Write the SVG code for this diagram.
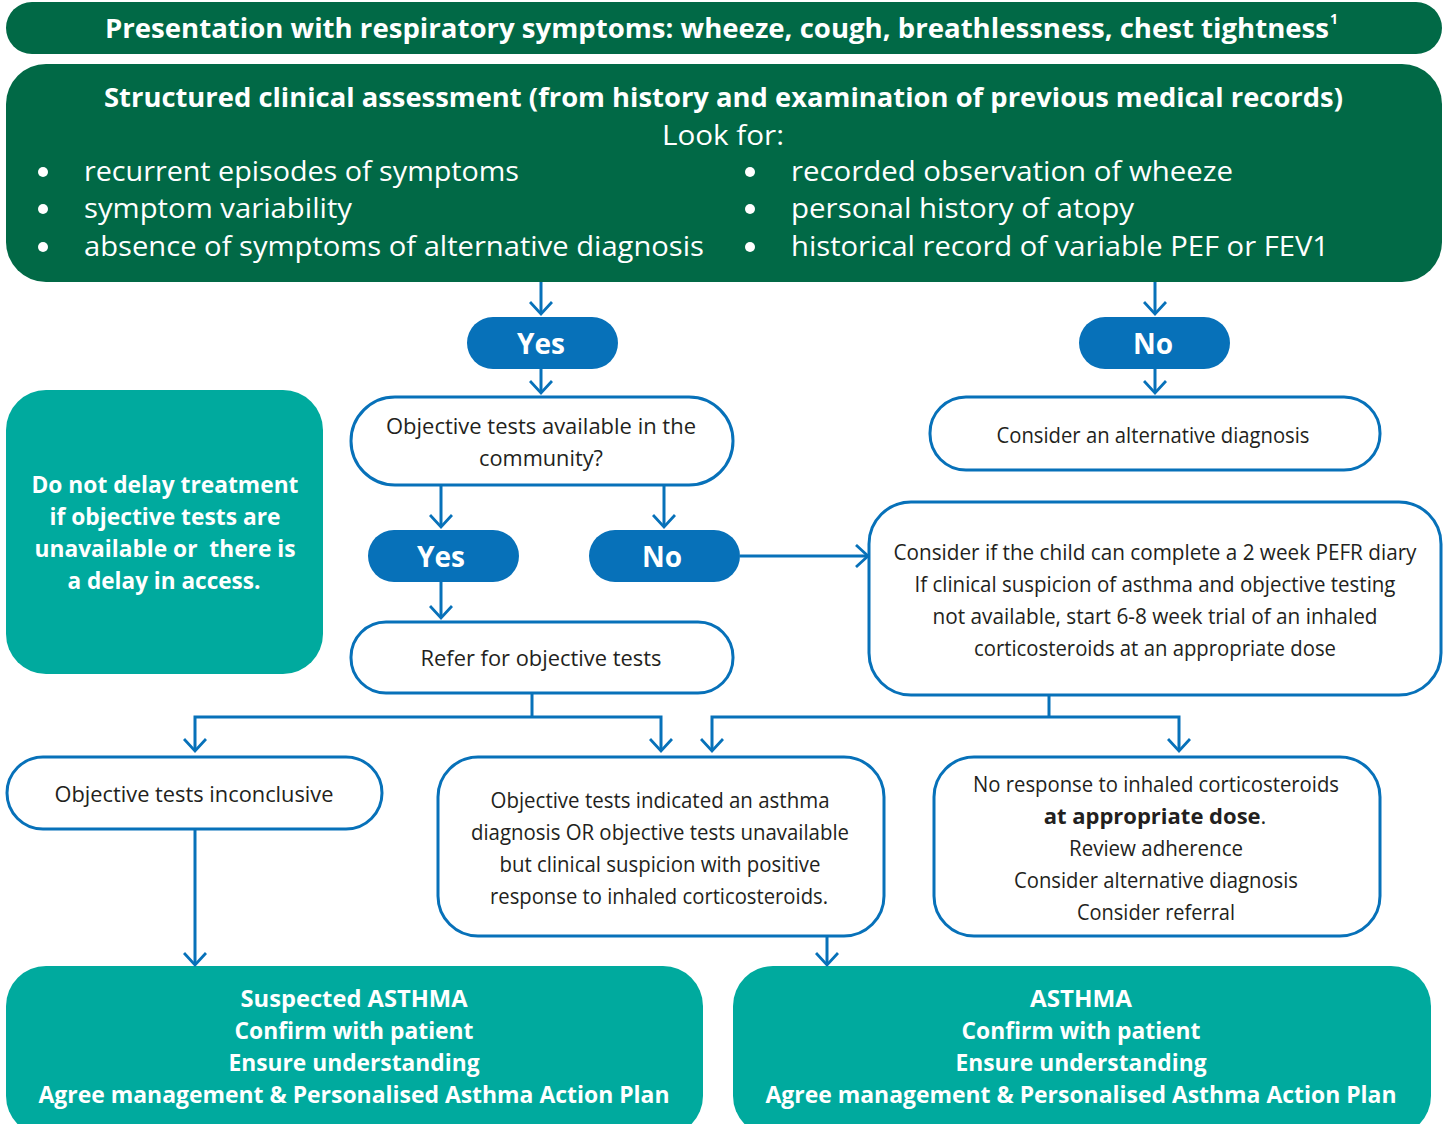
<svg xmlns="http://www.w3.org/2000/svg" width="1447" height="1124" viewBox="0 0 1447 1124">
  <defs>
    <style>
      .dk { fill: #016946; }
      .teal { fill: #00AA9E; }
      .pill { fill: #0771B9; }
      .box { fill: #ffffff; stroke: #0771B9; stroke-width: 3; }
      .wt { fill: #ffffff; font-family: "Open Sans", "Noto Sans", sans-serif; }
      .bd { fill: #231F20; font-family: "Open Sans", "Noto Sans", sans-serif; font-size: 22px; font-weight: 400; }
      .b { font-weight: 700; }
      .c { text-anchor: middle; }
      .ln { fill: none; stroke: #0771B9; stroke-width: 3; }
      .dot { fill: #ffffff; }
    </style>
    <marker id="arr" viewBox="0 0 24 24" refX="20" refY="12" markerWidth="24" markerHeight="24" markerUnits="userSpaceOnUse" orient="auto">
      <path d="M8,1 L20,12 L8,23" fill="none" stroke="#0771B9" stroke-width="2.8"/>
    </marker>
  </defs>
  <rect width="1447" height="1124" fill="#ffffff"/>

  <!-- Presenting symptoms header -->
  <g id="presentation">
    <rect class="dk" x="6" y="2" width="1436" height="52" rx="26"/>
    <text class="wt b" x="105" y="38" font-size="26" textLength="1224" lengthAdjust="spacingAndGlyphs">Presentation with respiratory symptoms: wheeze, cough, breathlessness, chest tightness</text>
    <text class="wt b" x="1330" y="24" font-size="14">1</text>
  </g>

  <!-- Structured clinical assessment -->
  <g id="assessment">
    <rect class="dk" x="6" y="64" width="1436" height="218" rx="40"/>
    <text class="wt b" x="104" y="107" font-size="27" textLength="1239" lengthAdjust="spacingAndGlyphs">Structured clinical assessment (from history and examination of previous medical records)</text>
    <text class="wt c" x="723" y="145" font-size="28" textLength="122" lengthAdjust="spacingAndGlyphs">Look for:</text>
    <circle class="dot" cx="43" cy="172" r="5"/>
    <circle class="dot" cx="43" cy="209" r="5"/>
    <circle class="dot" cx="43" cy="247" r="5"/>
    <circle class="dot" cx="750" cy="172" r="5"/>
    <circle class="dot" cx="750" cy="209" r="5"/>
    <circle class="dot" cx="750" cy="247" r="5"/>
    <g font-size="28">
      <text class="wt" x="84" y="181" textLength="435" lengthAdjust="spacingAndGlyphs">recurrent episodes of symptoms</text>
      <text class="wt" x="84" y="218" textLength="268" lengthAdjust="spacingAndGlyphs">symptom variability</text>
      <text class="wt" x="84" y="256" textLength="620" lengthAdjust="spacingAndGlyphs">absence of symptoms of alternative diagnosis</text>
      <text class="wt" x="791" y="181" textLength="442" lengthAdjust="spacingAndGlyphs">recorded observation of wheeze</text>
      <text class="wt" x="791" y="218" textLength="343" lengthAdjust="spacingAndGlyphs">personal history of atopy</text>
      <text class="wt" x="791" y="256" textLength="538" lengthAdjust="spacingAndGlyphs">historical record of variable PEF or FEV1</text>
    </g>
  </g>

  <!-- Yes / No decision pills -->
  <g id="yes-1">
    <rect class="pill" x="467" y="317" width="151" height="52" rx="26"/>
    <text class="wt b c" x="541" y="354" font-size="28">Yes</text>
  </g>
  <g id="no-1">
    <rect class="pill" x="1079" y="317" width="151" height="52" rx="26"/>
    <text class="wt b c" x="1153" y="354" font-size="28">No</text>
  </g>

  <g id="tests-available">
    <rect class="box" x="351" y="397" width="382" height="88" rx="44"/>
    <text class="bd c" x="541" y="434" textLength="310" lengthAdjust="spacingAndGlyphs">Objective tests available in the</text>
    <text class="bd c" x="541" y="466" textLength="124" lengthAdjust="spacingAndGlyphs">community?</text>
  </g>

  <g id="alt-diagnosis">
    <rect class="box" x="930" y="397" width="450" height="73" rx="36"/>
    <text class="bd c" x="1153" y="443" textLength="313" lengthAdjust="spacingAndGlyphs">Consider an alternative diagnosis</text>
  </g>

  <g id="yes-2">
    <rect class="pill" x="368" y="530" width="151" height="52" rx="26"/>
    <text class="wt b c" x="441" y="567" font-size="28">Yes</text>
  </g>
  <g id="no-2">
    <rect class="pill" x="589" y="530" width="151" height="52" rx="26"/>
    <text class="wt b c" x="662" y="567" font-size="28">No</text>
  </g>

  <g id="do-not-delay">
    <rect class="teal" x="6" y="390" width="317" height="284" rx="40"/>
    <g font-size="23">
      <text class="wt b c" x="165" y="493" textLength="267" lengthAdjust="spacingAndGlyphs">Do not delay treatment</text>
      <text class="wt b c" x="165" y="525" textLength="231" lengthAdjust="spacingAndGlyphs">if objective tests are</text>
      <text class="wt b c" x="165" y="557" textLength="261" lengthAdjust="spacingAndGlyphs" xml:space="preserve">unavailable or  there is</text>
      <text class="wt b c" x="164" y="589" textLength="193" lengthAdjust="spacingAndGlyphs">a delay in access.</text>
    </g>
  </g>

  <g id="refer">
    <rect class="box" x="351" y="622" width="382" height="71" rx="35"/>
    <text class="bd c" x="541" y="666" textLength="241" lengthAdjust="spacingAndGlyphs">Refer for objective tests</text>
  </g>

  <g id="pefr-trial">
    <rect class="box" x="869" y="502" width="572" height="193" rx="42"/>
    <text class="bd c" x="1155" y="560" textLength="523" lengthAdjust="spacingAndGlyphs">Consider if the child can complete a 2 week PEFR diary</text>
    <text class="bd c" x="1155" y="592" textLength="481" lengthAdjust="spacingAndGlyphs">If clinical suspicion of asthma and objective testing</text>
    <text class="bd c" x="1155" y="624" textLength="445" lengthAdjust="spacingAndGlyphs">not available, start 6-8 week trial of an inhaled</text>
    <text class="bd c" x="1155" y="656" textLength="362" lengthAdjust="spacingAndGlyphs">corticosteroids at an appropriate dose</text>
  </g>

  <g id="inconclusive">
    <rect class="box" x="7" y="757" width="375" height="72" rx="36"/>
    <text class="bd c" x="194" y="802" textLength="279" lengthAdjust="spacingAndGlyphs">Objective tests inconclusive</text>
  </g>

  <g id="indicated">
    <rect class="box" x="438" y="757" width="446" height="179" rx="40"/>
    <text class="bd c" x="660" y="808" textLength="339" lengthAdjust="spacingAndGlyphs">Objective tests indicated an asthma</text>
    <text class="bd c" x="660" y="840" textLength="378" lengthAdjust="spacingAndGlyphs">diagnosis OR objective tests unavailable</text>
    <text class="bd c" x="660" y="872" textLength="321" lengthAdjust="spacingAndGlyphs">but clinical suspicion with positive</text>
    <text class="bd c" x="659" y="904" textLength="338" lengthAdjust="spacingAndGlyphs">response to inhaled corticosteroids.</text>
  </g>

  <g id="no-response">
    <rect class="box" x="934" y="757" width="446" height="179" rx="40"/>
    <text class="bd c" x="1156" y="792" textLength="366" lengthAdjust="spacingAndGlyphs">No response to inhaled corticosteroids</text>
    <text class="bd c" x="1155" y="824"><tspan style="font-weight:700">at appropriate dose</tspan>.</text>
    <text class="bd c" x="1156" y="856" textLength="174" lengthAdjust="spacingAndGlyphs">Review adherence</text>
    <text class="bd c" x="1156" y="888" textLength="284" lengthAdjust="spacingAndGlyphs">Consider alternative diagnosis</text>
    <text class="bd c" x="1156" y="920" textLength="158" lengthAdjust="spacingAndGlyphs">Consider referral</text>
  </g>

  <g id="suspected-asthma">
    <rect class="teal" x="6" y="966" width="697" height="170" rx="40"/>
    <g font-size="23">
      <text class="wt b c" x="354" y="1007" textLength="227" lengthAdjust="spacingAndGlyphs">Suspected ASTHMA</text>
      <text class="wt b c" x="354" y="1039" textLength="239" lengthAdjust="spacingAndGlyphs">Confirm with patient</text>
      <text class="wt b c" x="354" y="1071" textLength="251" lengthAdjust="spacingAndGlyphs">Ensure understanding</text>
      <text class="wt b c" x="354" y="1103" textLength="631" lengthAdjust="spacingAndGlyphs">Agree management &amp; Personalised Asthma Action Plan</text>
    </g>
  </g>

  <g id="asthma">
    <rect class="teal" x="733" y="966" width="698" height="170" rx="40"/>
    <g font-size="23">
      <text class="wt b c" x="1081" y="1007" textLength="102" lengthAdjust="spacingAndGlyphs">ASTHMA</text>
      <text class="wt b c" x="1081" y="1039" textLength="239" lengthAdjust="spacingAndGlyphs">Confirm with patient</text>
      <text class="wt b c" x="1081" y="1071" textLength="251" lengthAdjust="spacingAndGlyphs">Ensure understanding</text>
      <text class="wt b c" x="1081" y="1103" textLength="631" lengthAdjust="spacingAndGlyphs">Agree management &amp; Personalised Asthma Action Plan</text>
    </g>
  </g>

  <!-- Connectors -->
  <g id="connectors">
    <path class="ln" d="M541,282 V314" marker-end="url(#arr)"/>
    <path class="ln" d="M1155,282 V314" marker-end="url(#arr)"/>
    <path class="ln" d="M541,369 V393" marker-end="url(#arr)"/>
    <path class="ln" d="M1155,369 V393" marker-end="url(#arr)"/>
    <path class="ln" d="M441,485 V527" marker-end="url(#arr)"/>
    <path class="ln" d="M664,485 V527" marker-end="url(#arr)"/>
    <path class="ln" d="M740,556 H868" marker-end="url(#arr)"/>
    <path class="ln" d="M441,582 V618" marker-end="url(#arr)"/>
    <path class="ln" d="M532,693 V717"/>
    <path class="ln" d="M532,717 H195 V751" marker-end="url(#arr)"/>
    <path class="ln" d="M532,717 H661 V751" marker-end="url(#arr)"/>
    <path class="ln" d="M1049,695 V717"/>
    <path class="ln" d="M1049,717 H712 V751" marker-end="url(#arr)"/>
    <path class="ln" d="M1049,717 H1179 V751" marker-end="url(#arr)"/>
    <path class="ln" d="M195,829 V965" marker-end="url(#arr)"/>
    <path class="ln" d="M827,936 V965" marker-end="url(#arr)"/>
  </g>
</svg>
